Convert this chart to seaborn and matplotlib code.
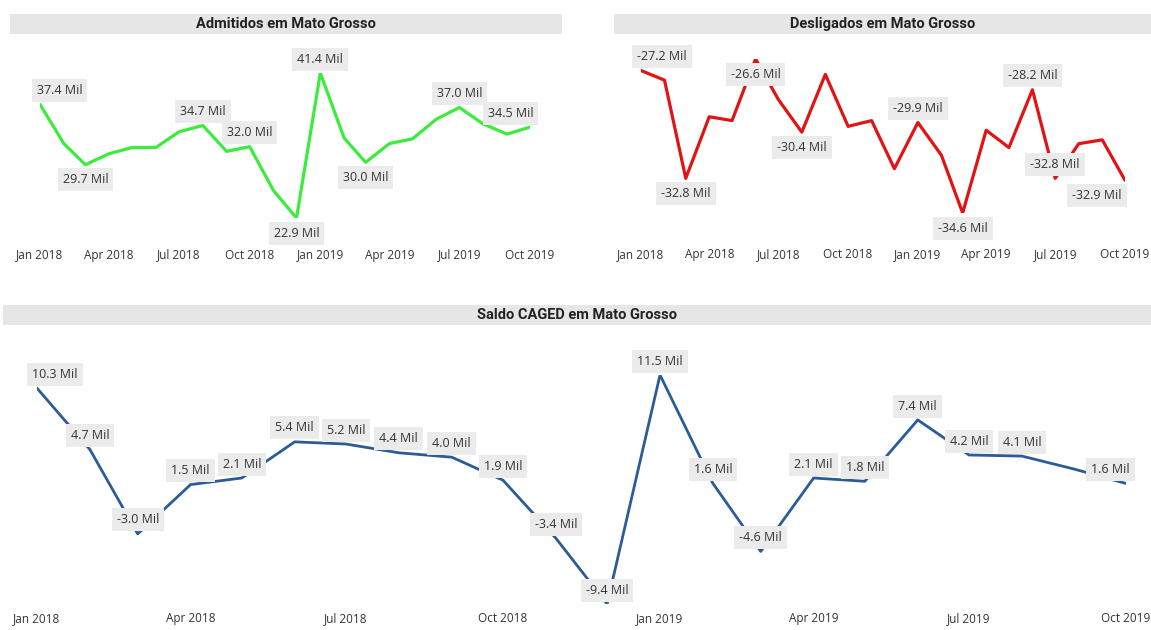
import pandas as pd
import numpy as np
import matplotlib
matplotlib.use("Agg")
import matplotlib.pyplot as plt
import matplotlib.dates as mdates
from matplotlib.patches import Rectangle
import seaborn as sns


# =========================
# Data (Mato Grosso, mil pessoas)
# =========================

months = ["2018-01", "2018-02", "2018-03", "2018-04", "2018-05", "2018-06",
          "2018-07", "2018-08", "2018-09", "2018-10", "2018-11", "2018-12",
          "2019-01", "2019-02", "2019-03", "2019-04", "2019-05", "2019-06",
          "2019-07", "2019-08", "2019-09", "2019-10"]

admitidos = [37.4, 32.4, 29.7, 31.1, 31.9, 31.9, 33.9, 34.7, 31.4, 32.0, 26.4,
             22.9, 41.4, 33.1, 30.0, 32.4, 33.0, 35.5, 37.0, 34.9, 33.6, 34.5]

desligados = [-27.2, -27.7, -32.8, -29.6, -29.8, -26.6, -28.7, -30.4, -27.4,
              -30.1, -29.8, -32.3, -29.9, -31.6, -34.6, -30.3, -31.2, -28.2,
              -32.8, -31.0, -30.8, -32.9]

saldo = [10.3, 4.7, -3.0, 1.5, 2.1, 5.4, 5.2, 4.4, 4.0, 1.9, -3.4, -9.4,
         11.5, 1.6, -4.6, 2.1, 1.8, 7.4, 4.2, 4.1, 2.9, 1.6]

tick_months = ["2018-01", "2018-04", "2018-07", "2018-10",
               "2019-01", "2019-04", "2019-07", "2019-10"]

titles = ["Admitidos em Mato Grosso", "Desligados em Mato Grosso",
          "Saldo CAGED em Mato Grosso"]

df = pd.DataFrame({
    "mes": pd.to_datetime(months),
    "admitidos": admitidos,
    "desligados": desligados,
    "saldo": saldo,
})


# =========================
# Label placement (which points get a label, above/below, edge shift)
# =========================

adm_labels = {0: "up", 2: "down", 7: "up", 9: "up", 11: "down",
              12: "up", 14: "down", 18: "up", 21: "up"}
des_labels = {0: "up", 2: "down", 5: "down", 7: "down", 12: "up",
              14: "down", 17: "up", 18: "up", 21: "down"}
sal_labels = {i: "up" for i in range(len(months)) if i != 20}

W, H = 1151, 630

sns.set_theme(style="white")
plt.rcParams["font.family"] = ["Open Sans", "DejaVu Sans"]

fig = plt.figure(figsize=(W / 100, H / 100), dpi=100)
fig.patch.set_facecolor("white")


def px_axes(x0, y0, x1, y1):
    return fig.add_axes([x0 / W, 1 - y1 / H, (x1 - x0) / W, (y1 - y0) / H])


def title_bar(x0, y0, x1, y1, text):
    fig.add_artist(Rectangle((x0 / W, 1 - y1 / H), (x1 - x0) / W, (y1 - y0) / H,
                             transform=fig.transFigure, facecolor="#e6e6e6",
                             edgecolor="none"))
    fig.text((x0 + x1) / 2 / W, 1 - (y0 + y1) / 2 / H, text, ha="center",
             va="center", fontsize=10.5, fontweight="bold", color="#222222",
             family=["Roboto", "DejaVu Sans"])


def panel(ax, col, color, lw, labels, shifts, pad):
    sns.lineplot(data=df, x="mes", y=col, color=color, linewidth=lw, ax=ax)
    ax.set_xlim(df["mes"].iloc[0], df["mes"].iloc[-1])
    ax.set_ylim(df[col].min(), df[col].max())
    for i, pos in labels.items():
        v = df[col].iloc[i]
        dy = 10 if pos == "up" else -11
        dx = shifts.get(i, 0)
        ax.annotate(f"{v:.1f} Mil", (df["mes"].iloc[i], v), xytext=(dx, dy),
                    textcoords="offset points", ha="center", va="center",
                    fontsize=9, color="#333333", annotation_clip=False,
                    bbox=dict(boxstyle="square,pad=0.4", fc="#ebebeb", ec="none"))
    ax.set_xticks(pd.to_datetime(tick_months))
    ax.xaxis.set_major_formatter(mdates.DateFormatter("%b %Y"))
    ax.tick_params(axis="x", length=0, pad=pad, labelsize=8.5, labelcolor="#333333")
    ax.set_yticks([])
    ax.set_xlabel("")
    ax.set_ylabel("")
    sns.despine(ax=ax, left=True, bottom=True)
    ax.patch.set_alpha(0)


# =========================
# Panels
# =========================

title_bar(10, 14, 562, 34, titles[0])
title_bar(614, 14, 1151, 34, titles[1])
title_bar(3, 305, 1151, 325, titles[2])

ax1 = px_axes(40, 73, 530, 218)
panel(ax1, "admitidos", "#3cec3c", 2.3, adm_labels, {0: 14, 21: -14}, 22)

ax2 = px_axes(641, 59, 1125, 213)
panel(ax2, "desligados", "#e01414", 2.3, des_labels, {0: 15, 21: -20}, 25)

ax3 = px_axes(37, 375, 1126, 604)
panel(ax3, "saldo", "#2b5c98", 2.0, sal_labels, {0: 13, 21: -11}, 6)

fig.savefig("out.png", dpi=100)
